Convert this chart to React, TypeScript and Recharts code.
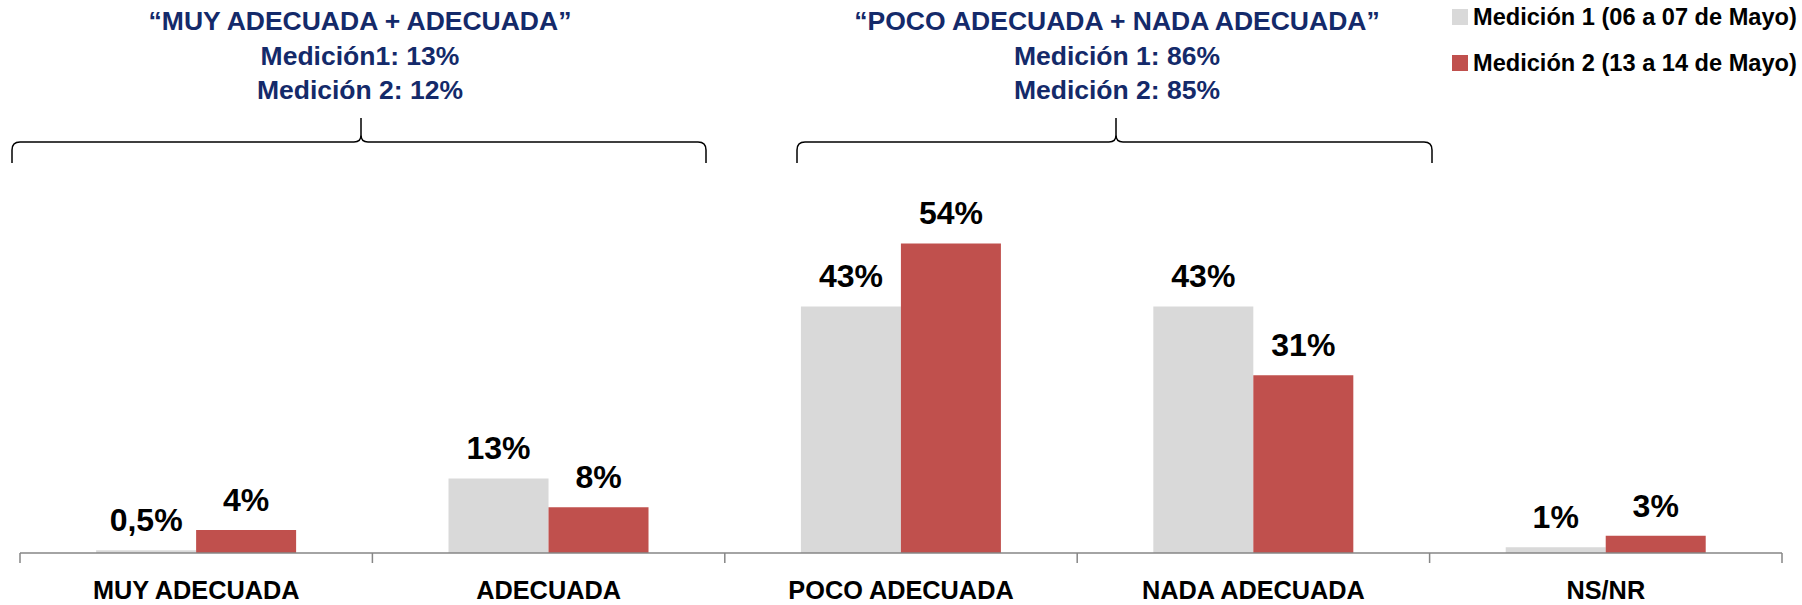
import { BarChart, Bar, XAxis, YAxis, LabelList, Legend } from "recharts"

const categories = ["MUY ADECUADA", "ADECUADA", "POCO ADECUADA", "NADA ADECUADA", "NS/NR"]
const medicion1 = [0.5, 13, 43, 43, 1]
const medicion2 = [4, 8, 54, 31, 3]
const labels1 = ["0,5%", "13%", "43%", "43%", "1%"]
const labels2 = ["4%", "8%", "54%", "31%", "3%"]
const seriesNames = ["Medición 1 (06 a 07 de Mayo)", "Medición 2 (13 a 14 de Mayo)"]

const groupTitles = [
  { x: 360, lines: ["“MUY ADECUADA + ADECUADA”", "Medición1: 13%", "Medición 2: 12%"] },
  { x: 1117, lines: ["“POCO ADECUADA + NADA ADECUADA”", "Medición 1: 86%", "Medición 2: 85%"] },
]
const braces = [
  { x1: 12, xm: 361, x2: 706 },
  { x1: 797, xm: 1116, x2: 1432 },
]

const data = categories.map((name, i) => ({
  name,
  m1: medicion1[i],
  m2: medicion2[i],
  l1: labels1[i],
  l2: labels2[i],
}))

const FONT = "'Liberation Sans', Arial, sans-serif"
const GRAY = "#D9D9D9"
const RED = "#C0504D"
const NAVY = "#142A6A"
const AXIS = "#868686"

// category label plus tick marks on the band edges (Excel style)
const CatTick = (props: any) => {
  const { x, y, payload, index } = props
  const half = payload.offset || 176.2
  const last = index === categories.length - 1
  return (
    <g>
      <line x1={x - half} x2={x - half} y1={y} y2={y + 10} stroke={AXIS} strokeWidth={1.5} />
      {last && <line x1={x + half} x2={x + half} y1={y} y2={y + 10} stroke={AXIS} strokeWidth={1.5} />}
      <text x={x} y={y} dy={46} textAnchor="middle" fontFamily={FONT} fontWeight="bold" fontSize={25.3} fill="#000">
        {payload.value}
      </text>
    </g>
  )
}

const makeLabel = (key: "l1" | "l2") => (props: any) => {
  const { x, y, width, index } = props
  return (
    <text x={x + width / 2} y={y - 19} textAnchor="middle" fontFamily={FONT} fontWeight="bold" fontSize={32} fill="#000">
      {data[index][key]}
    </text>
  )
}

const LegendBox = () => (
  <div style={{ fontFamily: FONT, fontWeight: "bold", fontSize: 23.6, color: "#000" }}>
    {seriesNames.map((n, i) => (
      <div key={n} style={{ display: "flex", alignItems: "center", height: 34, marginTop: i ? 12 : 0 }}>
        <span style={{ width: 16, height: 16, background: i ? RED : GRAY, marginRight: 5, display: "inline-block" }} />
        <span style={{ whiteSpace: "nowrap" }}>{n}</span>
      </div>
    ))}
  </div>
)

export default function App() {
  return (
    <div style={{ position: "absolute", left: 0, top: 0, width: 1802, height: 605, background: "#fff" }}>
      <BarChart
        width={1802}
        height={605}
        data={data}
        margin={{ top: 209, right: 20, bottom: 7, left: 20 }}
        barCategoryGap="21.6%"
        barGap={0}
      >
        <XAxis
          dataKey="name"
          height={45}
          axisLine={{ stroke: AXIS, strokeWidth: 1.5 }}
          tickLine={false}
          tickSize={0}
          tickMargin={0}
          interval={0}
          tick={<CatTick />}
        />
        <YAxis hide domain={[0, 60]} />
        <Legend
          layout="horizontal"
          verticalAlign="middle"
          align="center"
          content={<LegendBox />}
          wrapperStyle={{ top: 0, left: 1452, width: 350 }}
        />
        <Bar dataKey="m1" name={seriesNames[0]} fill={GRAY} isAnimationActive={false}>
          <LabelList dataKey="l1" content={makeLabel("l1")} />
        </Bar>
        <Bar dataKey="m2" name={seriesNames[1]} fill={RED} isAnimationActive={false}>
          <LabelList dataKey="l2" content={makeLabel("l2")} />
        </Bar>
      </BarChart>
      <svg width={1802} height={605} style={{ position: "absolute", left: 0, top: 0, pointerEvents: "none" }}>
        {groupTitles.map((g) =>
          g.lines.map((t, i) => (
            <text key={t} x={g.x} y={30 + i * 34.5} textAnchor="middle" fontFamily={FONT} fontWeight="bold" fontSize={26.5} fill={NAVY}>
              {t}
            </text>
          ))
        )}
        {braces.map((b) => (
          <path
            key={b.x1}
            d={`M${b.x1},163 L${b.x1},150 Q${b.x1},142 ${b.x1 + 8},142 L${b.xm - 7},142 Q${b.xm},142 ${b.xm},135 L${b.xm},118 M${b.xm},135 Q${b.xm},142 ${b.xm + 7},142 L${b.x2 - 8},142 Q${b.x2},142 ${b.x2},150 L${b.x2},163`}
            fill="none"
            stroke="#000"
            strokeWidth={1.5}
          />
        ))}
      </svg>
    </div>
  )
}
